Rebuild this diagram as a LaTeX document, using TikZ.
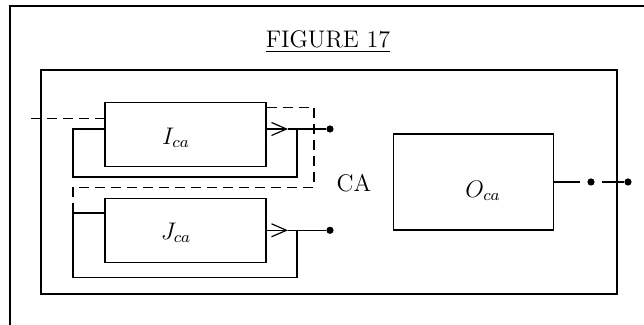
\documentclass[tikz,border=0pt]{standalone}
\usetikzlibrary{arrows.meta,calc}
\begin{document}
\begin{tikzpicture}[x=0.5pt,y=-0.5pt, line width=0.6pt,
  font=\fontsize{12}{14.4}\selectfont,
  box/.style={draw, minimum width=80.5pt, minimum height=32pt, inner sep=0pt},
  dashline/.style={dash pattern=on 5pt off 3pt},
  dotnode/.style={circle, fill, inner sep=0pt, minimum size=3.6pt},
  midarrow/.style={-{Straight Barb[length=7.5pt,width=6.5pt]}}]
\useasboundingbox (0,0) rectangle (644,325);
\clip (0,0) rectangle (644,325);
% outer frame (cut by the picture edge)
\draw (10,6) rectangle (700,400);
% title
\node[anchor=base, inner sep=0pt] (title) at (328,48) {\underline{FIGURE 17}};
% inner frame
\node[draw, minimum width=288pt, minimum height=112pt, inner sep=0pt] (ca) at (329,182) {};
\node (calbl) at (354,183.5) {CA};
% boxes
\node[box] (I) at (185.5,134.7) {};
\node (Ilbl) at (176,138) {$I_{ca}$};
\node[box] (J) at (185.5,230.3) {};
\node (Jlbl) at (176,233) {$J_{ca}$};
\node[draw, minimum width=80pt, minimum height=48pt, inner sep=0pt] (O) at (473.3,182) {};
\node (Olbl) at (483,191) {$O_{ca}$};
% dots
\node[dotnode] (Idot) at (330,129) {};
\node[dotnode] (Jdot) at (330,230.3) {};
\node[dotnode] (Odot1) at (591,182) {};
\node[dotnode] (Odot2) at (628,182) {};
% helper coordinates
\coordinate (Iarr) at (288,129);
\coordinate (Itap) at (297,129);
\coordinate (Jarr) at (288,230.3);
\coordinate (Jtap) at (297,230.3);
\coordinate (inI) at (31,118.3);
\coordinate (Itopref) at (0,107.7);
\coordinate (dcorner) at (314,187.7);
\coordinate (Jinref) at (73,213);
\coordinate (Oend) at (580,182);
\coordinate (Ostart) at (602,182);
% I block
\draw[midarrow] (I.east |- Iarr) -- (Iarr);
\draw (Iarr) -- (Idot);
\draw (Itap) |- (73,177) |- (I.west |- Iarr);
\draw[dashline] (inI) -- (I.west |- inI);
\draw[dashline] (I.east |- Itopref) -| (dcorner) -| (Jinref) -- (J.west |- Jinref);
% J block
\draw[midarrow] (J.east) -- (Jarr);
\draw (Jarr) -- (Jdot);
\draw (Jtap) |- (73,277.7) |- (J.west |- Jinref);
% O block
\draw (O.east) -- (Oend);
\draw (Ostart) -- (Odot2);
\end{tikzpicture}
\end{document}
